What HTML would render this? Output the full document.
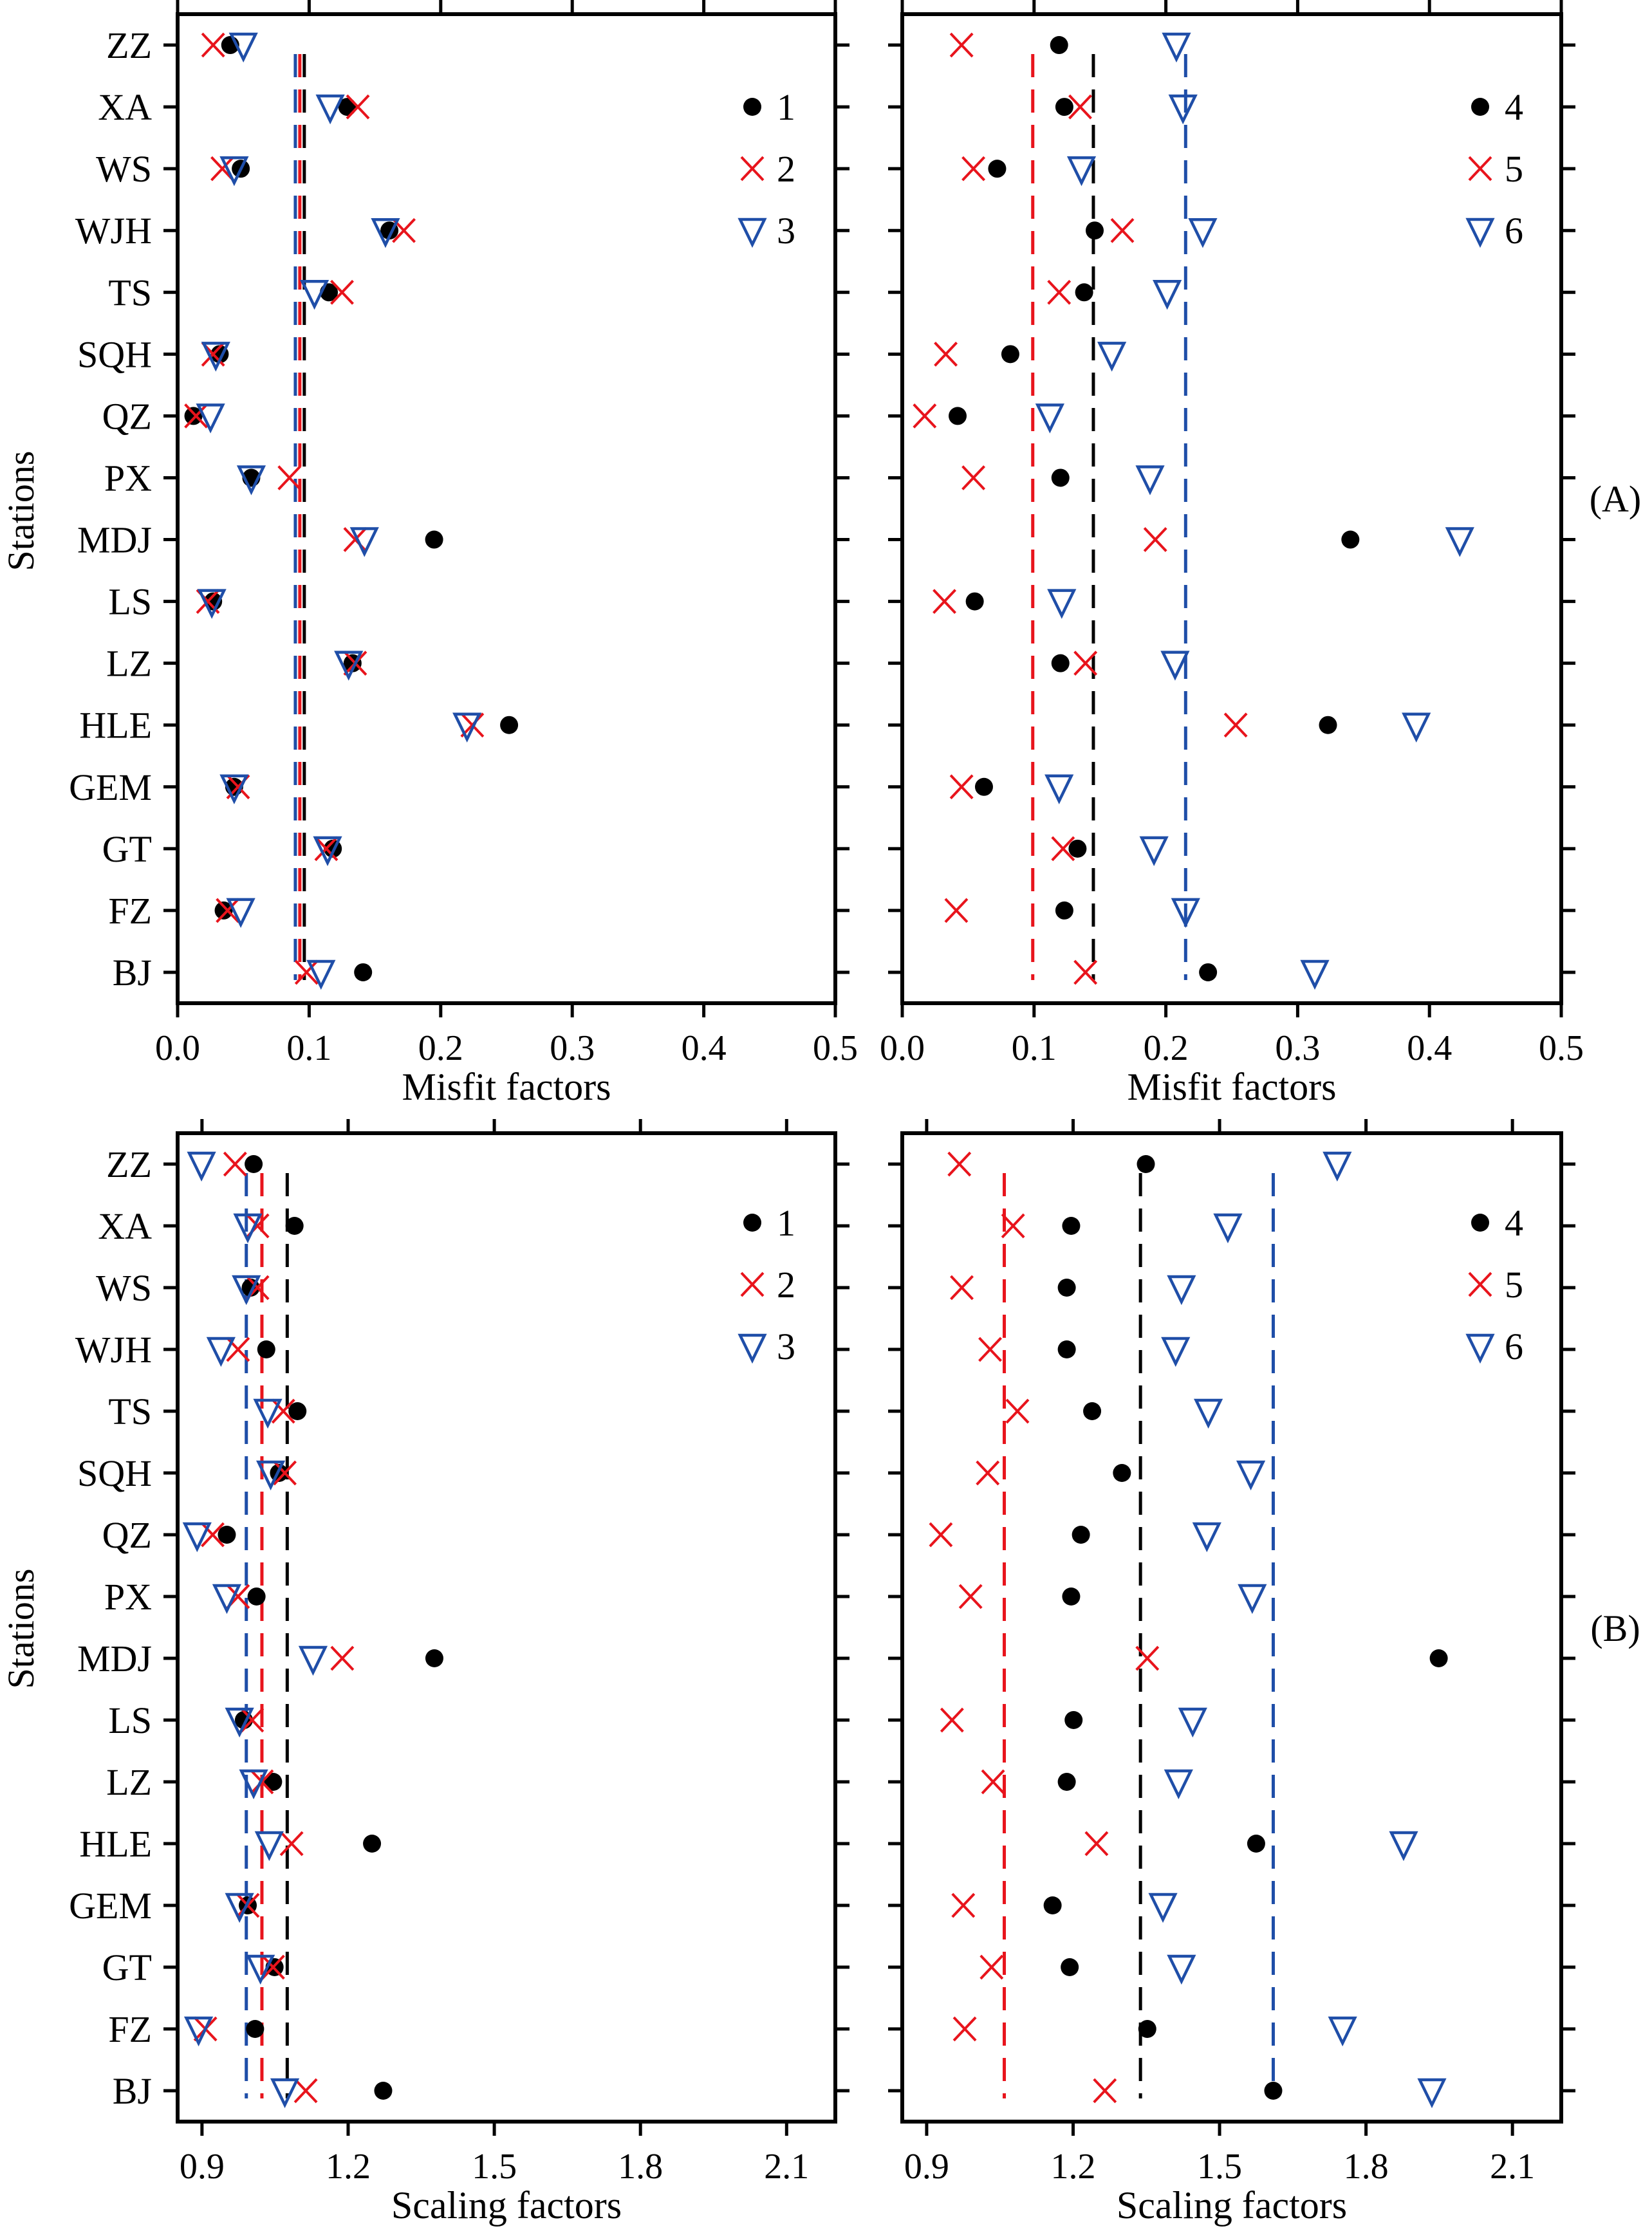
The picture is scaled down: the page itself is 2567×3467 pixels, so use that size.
<!DOCTYPE html>
<html><head><meta charset="utf-8">
<style>
html,body{margin:0;padding:0;background:#fff;}
svg{display:block;}
svg text{font-family:"Liberation Serif","Times New Roman",serif;fill:#000;}
</style></head>
<body>
<svg id="fig" width="2567" height="3467" viewBox="0 0 2567 3467" xmlns="http://www.w3.org/2000/svg" font-family="Liberation Serif, Times New Roman, serif">
<text x="2510" y="795" font-size="58" text-anchor="middle">(A)</text>
<text x="2510" y="2550" font-size="58" text-anchor="middle">(B)</text>
<text transform="translate(52,794) rotate(-90)" font-size="58" text-anchor="middle">Stations</text>
<text transform="translate(52,2531) rotate(-90)" font-size="58" text-anchor="middle">Stations</text>
</svg>
<script>
const stations = ["ZZ","XA","WS","WJH","TS","SQH","QZ","PX","MDJ","LS","LZ","HLE","GEM","GT","FZ","BJ"];
const misfitTicks = ["0.0","0.1","0.2","0.3","0.4","0.5"];
const scaleTicks = ["0.9","1.2","1.5","1.8","2.1"];
// panel A-left: misfit series 1,2,3
const aL1 = [0.040,0.129,0.048,0.161,0.115,0.032,0.012,0.056,0.195,0.027,0.133,0.252,0.043,0.118,0.035,0.141];
const aL2 = [0.027,0.137,0.034,0.172,0.125,0.027,0.014,0.085,0.135,0.023,0.135,0.224,0.046,0.113,0.038,0.098];
const aL3 = [0.050,0.116,0.043,0.158,0.104,0.029,0.025,0.056,0.142,0.026,0.130,0.220,0.043,0.114,0.048,0.109];
const aLMeans = [0.0963,0.0929,0.0895];
// panel A-right: misfit series 4,5,6
const aR1 = [0.119,0.123,0.072,0.146,0.138,0.082,0.042,0.120,0.340,0.055,0.120,0.323,0.062,0.133,0.123,0.232];
const aR2 = [0.045,0.135,0.054,0.167,0.119,0.033,0.017,0.054,0.192,0.032,0.139,0.253,0.045,0.122,0.041,0.139];
const aR3 = [0.208,0.213,0.136,0.228,0.201,0.159,0.112,0.188,0.423,0.121,0.207,0.390,0.119,0.191,0.215,0.313];
const aRMeans = [0.145,0.099,0.215];
// panel B-left: scaling series 1,2,3
const bL1 = [1.006,1.090,1.000,1.032,1.096,1.058,0.951,1.012,1.377,0.986,1.046,1.249,0.994,1.049,1.009,1.272];
const bL2 = [0.968,1.014,1.014,0.974,1.067,1.070,0.922,0.974,1.188,1.003,1.023,1.084,0.994,1.046,0.907,1.113];
const bL3 = [0.899,0.994,0.991,0.939,1.035,1.041,0.890,0.951,1.128,0.977,1.006,1.038,0.977,1.020,0.893,1.070];
const bLMeans = [1.075,1.023,0.991];
// panel B-right: scaling series 4,5,6
const bR1 = [1.349,1.196,1.187,1.187,1.239,1.300,1.216,1.196,1.949,1.201,1.187,1.575,1.158,1.193,1.352,1.610];
const bR2 = [0.967,1.077,0.972,1.030,1.086,1.025,0.929,0.990,1.352,0.952,1.036,1.248,0.975,1.033,0.978,1.265];
const bR3 = [1.741,1.517,1.422,1.410,1.477,1.564,1.474,1.567,2.300,1.445,1.416,1.877,1.384,1.422,1.752,1.935];
const bRMeans = [1.338,1.059,1.610];
const legendLeft = ["1","2","3"];
const legendRight = ["4","5","6"];

const NS="http://www.w3.org/2000/svg";
const svg=document.getElementById('fig');
const FONT="Liberation Serif, Times New Roman, serif";
function mk(tag,attrs,parent){const e=document.createElementNS(NS,tag);for(const k in attrs)e.setAttribute(k,attrs[k]);if(tag==='text')e.setAttribute('font-family',FONT);(parent||svg).appendChild(e);return e;}
const BLUE="#1f4ea8", RED="#e8141c";

function marker(g,type,x,y){
  let e;
  if(type===0){e=mk('circle',{cx:x,cy:y,r:14,fill:'#000'},g);}
  else if(type===1){e=mk('path',{d:`M${x-17},${y-18}L${x+17},${y+18}M${x-17},${y+18}L${x+17},${y-18}`,stroke:RED,'stroke-width':4,fill:'none'},g);}
  else {e=mk('path',{d:`M${x-19},${y-17}L${x+19},${y-17}L${x},${y+22}Z`,stroke:BLUE,'stroke-width':4.5,fill:'none','stroke-linejoin':'miter'},g);}
  return e;
}

function panel(id,x0,x1,y0,y1,xmin,xmax,tickVals,tickLabels,series,means,leg,showY,title,legX,legY){
  const g=mk('g',{});
  
  
  const xs=v=>x0+(v-xmin)/(xmax-xmin)*(x1-x0);
  const ys=i=>y0+(i+0.5)/16*(y1-y0);
  const clip=mk('clipPath',{id:id+'-clip'},g);
  mk('rect',{x:x0,y:y0,width:x1-x0,height:y1-y0},clip);
  tickLabels.forEach((lab,i)=>{
    const v=tickVals[i], x=xs(v);
    const tb=mk('line',{x1:x,x2:x,y1:y1,y2:y1+22,stroke:'#000','stroke-width':5},g);
    
    
    mk('line',{x1:x,x2:x,y1:y0,y2:y0-22,stroke:'#000','stroke-width':5},g);
    const t=mk('text',{x:x,y:y1+88,'font-size':56,'text-anchor':'middle'},g);
    
    
    t.textContent=lab;
  });
  stations.forEach((s,i)=>{
    const y=ys(i);
    mk('line',{x1:x0-22,x2:x0,y1:y,y2:y,stroke:'#000','stroke-width':5},g);
    mk('line',{x1:x1,x2:x1+22,y1:y,y2:y,stroke:'#000','stroke-width':5},g);
    if(showY){
      const t=mk('text',{x:x0-40,y:y+20,'font-size':58,'text-anchor':'end'},g);
      
      
      t.textContent=s;
    }
  });
  const xt=mk('text',{x:(x0+x1)/2,y:y1+150,'font-size':60,'text-anchor':'middle'},g);
  
  
  xt.textContent=title;
  const mcol=['#000',RED,BLUE];
  const mg=mk('g',{'clip-path':`url(#${id}-clip)`},g);
  means.forEach((m,k)=>{
    const x=xs(m);
    const l=mk('line',{x1:x,x2:x,y1:ys(0)+14,y2:ys(15)+12,stroke:mcol[k],'stroke-width':5,'stroke-dasharray':'36 19'},mg);
    
    
  });
  series.forEach((arr,k)=>{
    const sg=mk('g',{'clip-path':`url(#${id}-clip)`},g);
    
    
    arr.forEach((v,i)=>{
      const m=marker(sg,k,xs(v),ys(i));
      
      
    });
  });
  const fr=mk('rect',{x:x0,y:y0,width:x1-x0,height:y1-y0,fill:'none',stroke:'#000','stroke-width':6},g);
  
  
  leg.forEach((lab,k)=>{
    const y=legY+k*96;
    const lg=mk('g',{},g);
    
    
    marker(lg,k,legX,y);
    const t=mk('text',{x:legX+38,y:y+20,'font-size':58},lg);
    t.textContent=lab;
  });
}
const misVals=[0,0.1,0.2,0.3,0.4,0.5];
const scVals=[0.9,1.2,1.5,1.8,2.1];
panel('panel-a-left',276,1298,22,1559,0,0.5,misVals,misfitTicks,[aL1,aL2,aL3],aLMeans,legendLeft,true,'Misfit factors',1169,166);
panel('panel-a-right',1402,2426,22,1559,0,0.5,misVals,misfitTicks,[aR1,aR2,aR3],aRMeans,legendRight,false,'Misfit factors',2300,166);
panel('panel-b-left',276,1298,1761,3297,0.85,2.2,scVals,scaleTicks,[bL1,bL2,bL3],bLMeans,legendLeft,true,'Scaling factors',1169,1900);
panel('panel-b-right',1402,2426,1761,3297,0.85,2.2,scVals,scaleTicks,[bR1,bR2,bR3],bRMeans,legendRight,false,'Scaling factors',2300,1900);
</script>
</body></html>
